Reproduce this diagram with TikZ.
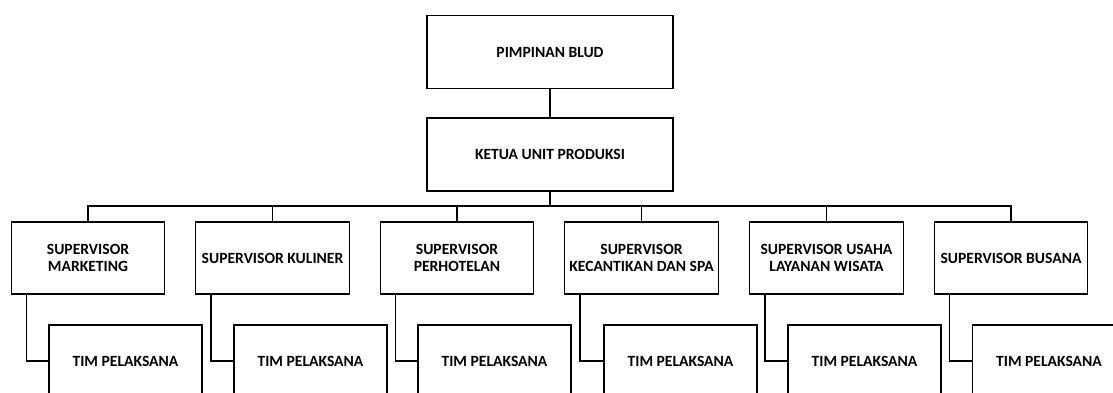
\documentclass[tikz,border=0pt]{standalone}
\usepackage{fontspec}
\setmainfont{Carlito}
\begin{document}
\begin{tikzpicture}[x=1pt,y=-1pt,
  box/.style={draw=black, line width=1.4pt, rectangle, inner sep=0pt, align=center,
    font=\fontsize{15.6}{16.5}\selectfont\bfseries, text=black},
  topbox/.style={box, minimum width=246pt, minimum height=73pt},
  supbox/.style={box, minimum width=153.5pt, minimum height=72pt},
  timbox/.style={box, minimum width=153pt, minimum height=72pt},
  conn/.style={draw=black, line width=1.3pt}]
\useasboundingbox (0,0) rectangle (1113,392);
\clip (0,0) rectangle (1113,392);
\fill[white] (0,0) rectangle (1113,392);
% top
\node[topbox] (p) at (550,52) {PIMPINAN BLUD};
\node[topbox] (k) at (550,154.5) {KETUA UNIT PRODUKSI};
% supervisors
\node[supbox] (s1) at (88,258) {SUPERVISOR\\MARKETING};
\node[supbox] (s2) at (272.5,258) {SUPERVISOR KULINER};
\node[supbox] (s3) at (457,258) {SUPERVISOR\\PERHOTELAN};
\node[supbox] (s4) at (641.5,258) {SUPERVISOR\\KECANTIKAN DAN SPA};
\node[supbox] (s5) at (826.5,258) {SUPERVISOR USAHA\\LAYANAN WISATA};
\node[supbox] (s6) at (1011,258) {SUPERVISOR BUSANA};
% teams
\node[timbox] (t1) at (125.5,361) {TIM PELAKSANA};
\node[timbox] (t2) at (310.5,361) {TIM PELAKSANA};
\node[timbox] (t3) at (494.5,361) {TIM PELAKSANA};
\node[timbox] (t4) at (680.5,361) {TIM PELAKSANA};
\node[timbox] (t5) at (864.5,361) {TIM PELAKSANA};
\node[timbox] (t6) at (1049,361) {TIM PELAKSANA};
% connectors
\coordinate (bus) at (550,206);
\draw[conn] (p.south) -- (k.north);
\draw[conn] (k.south) -- (bus);
\draw[conn] (s1.north) -- (s1.north |- bus) -- (s6.north |- bus) -- (s6.north);
\foreach \i in {2,3,4,5} {
  \draw[conn] (s\i.north) -- (s\i.north |- bus);
}
\foreach \i in {1,...,6} {
  \draw[conn] ([xshift=16pt]s\i.south west) |- (t\i.west);
}
\end{tikzpicture}
\end{document}
